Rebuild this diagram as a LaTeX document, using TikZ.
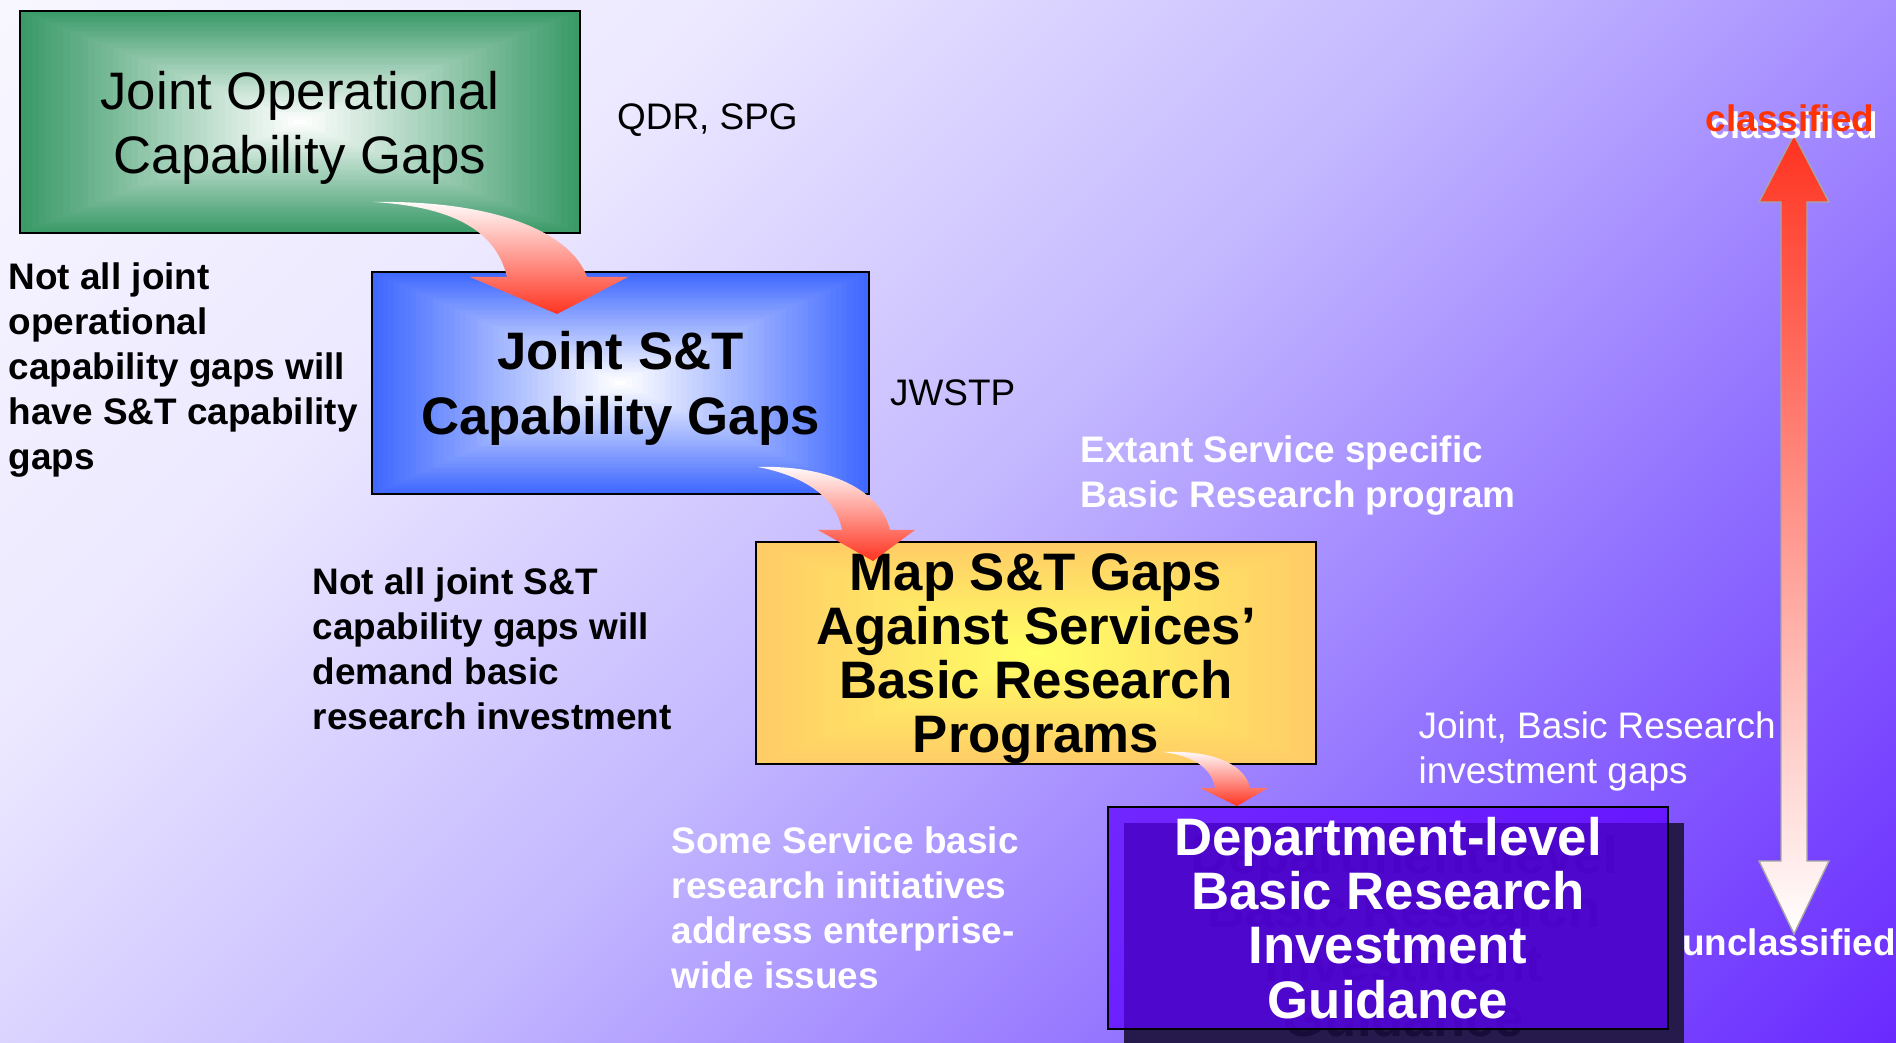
\documentclass[tikz,border=0pt]{standalone}
\usepackage{fontspec}
\setmainfont{Liberation Sans}
\usetikzlibrary{positioning,calc}
\definecolor{opgreen}{HTML}{3A9A68}
\definecolor{stblue}{HTML}{3F68FF}
\definecolor{mapyellow}{HTML}{FFFF66}
\definecolor{maporange}{HTML}{FFCC66}
\definecolor{deptpurple}{HTML}{5E00FF}
\definecolor{deptshadow}{HTML}{261A4C}
\definecolor{ghost}{HTML}{180C38}
\definecolor{arrowred}{HTML}{FF3320}
\definecolor{classred}{HTML}{FF3300}
\definecolor{bgA}{HTML}{F8F7FF}
\definecolor{bgB}{HTML}{ECE8FF}
\definecolor{bgC}{HTML}{C4B8FF}
\definecolor{bgD}{HTML}{9070FF}
\definecolor{bgE}{HTML}{6A2AFF}
\pgfdeclareverticalshading{bgdiag}{100bp}{color(0bp)=(bgE); color(14.64bp)=(bgE); color(32.32bp)=(bgD);
  color(50bp)=(bgC); color(67.68bp)=(bgB); color(85.36bp)=(bgA); color(100bp)=(bgA)}

\begin{document}
\begin{tikzpicture}[x=0.01cm, y=-0.01cm,
      box/.style={draw, line width=0.7pt, inner sep=0pt, minimum height=2.22cm, align=center},
      rectgrad/.style 2 args={path picture={
        \coordinate (pc) at (path picture bounding box.center);
        \coordinate (pnw) at (path picture bounding box.north west);
        \coordinate (pse) at (path picture bounding box.south east);
        \foreach \k in {0,...,44} {
          \pgfmathsetmacro\gradf{1-\k/45}
          \pgfmathtruncatemacro\gradp{100*\k/44}
          \fill[#2!\gradp!#1] ($(pc)!\gradf!(pnw)$) rectangle ($(pc)!\gradf!(pse)$);
        }}},
      bigtxt/.style={font=\fontsize{15}{18.2}\selectfont, text depth=0pt},
      bigtxtb/.style={font=\fontsize{15}{18.5}\selectfont\bfseries, text depth=0pt},
      bigbold/.style={font=\fontsize{15}{15.4}\selectfont\bfseries},
      note/.style={font=\fontsize{10.5}{12.8}\selectfont\bfseries, align=left, anchor=west, inner sep=0pt},
      plain/.style={font=\fontsize{10.5}{12.8}\selectfont, align=left, anchor=west, inner sep=0pt},
      bendarrow/.style={top color=white, bottom color=arrowred}]
    \useasboundingbox (0,0) rectangle (1896,1043);
    \shade[shading=bgdiag, shading angle=45] (0,0) rectangle (1896,1043);
    \fill[deptshadow] (1124,823) rectangle (1684,1045);
    \node[bigbold, text=ghost, align=center] at (1404,936) {Department-level\\Basic Research\\Investment\\Guidance};
    \node[box, bigtxt, rectgrad={opgreen}{white}, minimum width=5.6cm] (opgaps) at (300,122) {Joint Operational\\Capability Gaps};
    \node[box, bigtxtb, rectgrad={stblue}{white}, minimum width=4.97cm] (stgaps) at (620.5,383) {Joint S\&T\\Capability Gaps};
    \node[box, bigbold, text depth=0pt, rectgrad={maporange}{mapyellow}, minimum width=5.6cm] (mapgaps) at (1036,653) {Map S\&T Gaps\\Against Services'\\Basic Research\\Programs};
    \node[box, bigbold, fill=deptpurple, fill opacity=0.72, text opacity=1, text=white, minimum width=5.6cm] (guidance) at (1388,918) {Department-level\\Basic Research\\Investment\\Guidance};
    \node[plain, right=0.35cm of opgaps, yshift=0.02cm] (qdr) {QDR, SPG};
    \node[plain, right=0.19cm of stgaps, yshift=-0.1cm] (jwstp) {JWSTP};
    \node[note] (notjoint) at (8,370) {Not all joint\\operational\\capability gaps will\\have S\&T capability\\gaps};
    \node[note] (notst) at (312,649) {Not all joint S\&T\\capability gaps will\\demand basic\\research investment};
    \node[note, text=white] (extant) at (1080,476) {Extant Service specific\\Basic Research program};
    \node[note, text=white] (someserv) at (671,908) {Some Service basic\\research initiatives\\address enterprise-\\wide issues};
    \node[plain, text=white] (jointbr) at (1418,751) {Joint, Basic Research\\investment gaps};
    \shade[bendarrow] (373,202) .. controls (490,200) and (570,230) .. (587,277) -- (628,277) -- (557,314) -- (470,277) -- (507,277) .. controls (497,235) and (460,207) .. (373,202) -- cycle;
    \shade[bendarrow] (758,467) .. controls (830,465) and (880,490) .. (890,530) -- (915,530) -- (873,561) -- (818,530) -- (842,530) .. controls (838,505) and (815,478) .. (758,467) -- cycle;
    \shade[bendarrow] (1163,752) .. controls (1215,750) and (1245,765) .. (1250,788) -- (1268,788) -- (1237,806) -- (1200,788) -- (1215,788) .. controls (1212,772) and (1200,757) .. (1163,752) -- cycle;
    \shadedraw[top color=arrowred, bottom color=white, draw=gray!70, line width=0.4pt] (1794,135) -- (1829,202) -- (1807,202) -- (1807,861) -- (1829,861) -- (1794,934) -- (1759,861) -- (1781,861) -- (1781,202) -- (1759,202) -- cycle;
    \node[note, anchor=center, text=white] at (1794,125) {classified};
    \node[note, anchor=center, text=classred] (classified) at (1790,118) {classified};
    \node[note, anchor=center, text=white] (unclassified) at (1789,942) {unclassified};
  \end{tikzpicture}
\end{document}
